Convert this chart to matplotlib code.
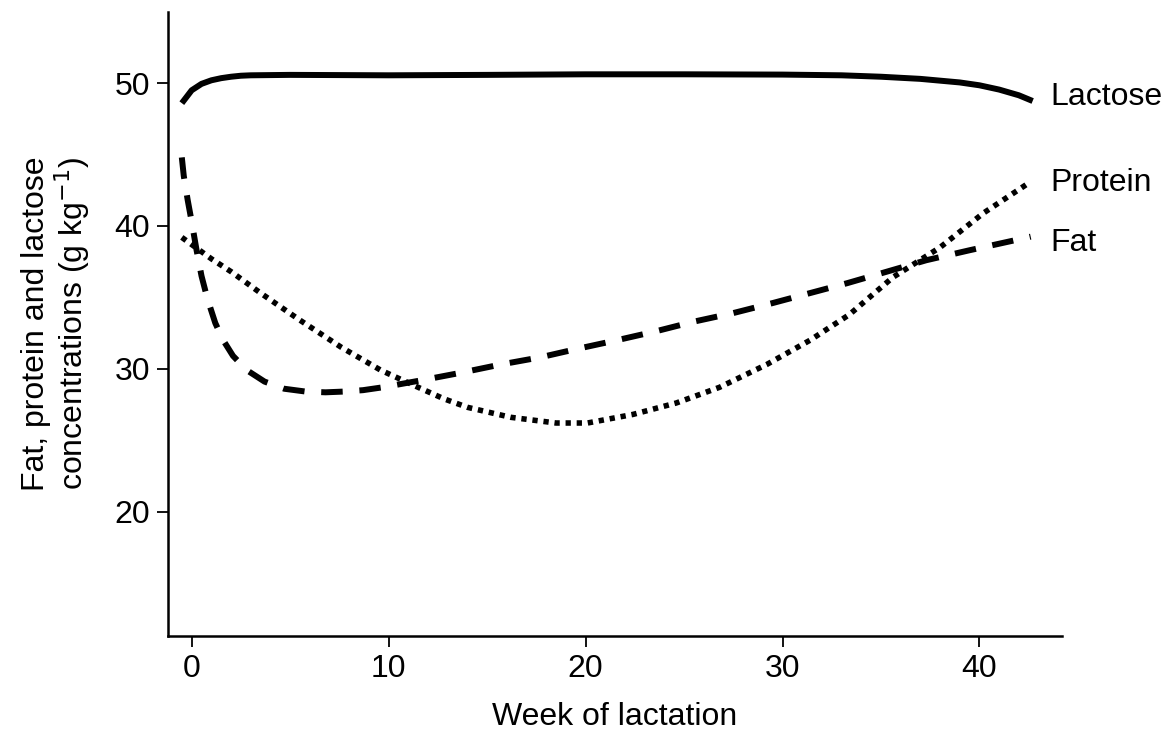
import matplotlib
matplotlib.use("Agg")
import matplotlib.pyplot as plt

# values (week of lactation vs g/kg)
lactose_weeks = [-0.5, 0, 0.5, 1, 1.5, 2, 2.5, 3, 5, 10, 15, 20, 25, 30, 33, 35, 37, 39, 40, 41, 42, 42.7]
lactose = [48.6, 49.5, 49.95, 50.2, 50.35, 50.45, 50.52, 50.55, 50.58, 50.55, 50.58, 50.62, 50.62,
           50.6, 50.55, 50.45, 50.3, 50.05, 49.85, 49.55, 49.15, 48.75]

fat_weeks = [-0.5, -0.4, -0.2, 0, 0.25, 0.5, 0.8, 1.2, 1.6, 2.1, 2.8, 3.7, 4.7, 5.8, 6.8, 7.7, 8.7,
             9.7, 11.7, 13.6, 15.7, 17.7, 19.6, 21.6, 23.5, 25.5, 27.5, 29.5, 31.4, 33.3, 35.3,
             37.3, 39.5, 41.8, 42.6]
fat = [44.8, 43.5, 41.8, 40.3, 38.3, 36.5, 34.9, 33.2, 32.0, 30.9, 29.9, 29.1, 28.6, 28.4, 28.35,
       28.4, 28.5, 28.7, 29.2, 29.7, 30.3, 30.8, 31.4, 32.0, 32.6, 33.3, 33.9, 34.6, 35.3, 36.0,
       36.8, 37.6, 38.3, 39.0, 39.25]

protein_weeks = [-0.5, 0, 1, 2, 3.5, 5.5, 7.6, 9.6, 11.5, 12.8, 14, 16.2, 18.5, 20.1, 22.4, 24.6,
                 26.8, 29.2, 31.4, 33.4, 35.6, 38, 40.2, 42.6]
protein = [39.2, 38.7, 37.7, 36.8, 35.3, 33.4, 31.5, 29.9, 28.7, 27.9, 27.3, 26.6, 26.2, 26.2,
           26.8, 27.6, 28.7, 30.3, 32.0, 33.8, 36.4, 38.5, 40.9, 43.1]

x_ticks = [0, 10, 20, 30, 40]
y_ticks = [20, 30, 40, 50]

plt.rcParams['font.family'] = ['Liberation Sans', 'DejaVu Sans']
fs = 23

fig = plt.figure(figsize=(11.75, 7.35), dpi=100)
ax = fig.add_axes([0.143, 0.135, 0.761, 0.849])

ax.plot(lactose_weeks, lactose, color='black', lw=4.3, solid_capstyle='butt')
ax.plot(fat_weeks, fat, color='black', lw=4.3, linestyle=(0, (3.6, 2.8)), dash_capstyle='butt')
ax.plot(protein_weeks, protein, color='black', lw=4.0, linestyle=(0, (0.95, 1.05)), dash_capstyle='butt')

label_x = 43.6
ax.text(label_x, 49.0, 'Lactose', fontsize=fs, va='center', ha='left', clip_on=False)
ax.text(label_x, 43.0, 'Protein', fontsize=fs, va='center', ha='left', clip_on=False)
ax.text(label_x, 38.8, 'Fat', fontsize=fs, va='center', ha='left', clip_on=False)

ax.set_xlim(-1.2, 44.2)
ax.set_ylim(11.3, 55)
ax.set_xticks(x_ticks)
ax.set_yticks(y_ticks)
ax.tick_params(labelsize=fs, width=1.3, length=8, pad=5, direction='out', color='black')

for side in ['top', 'right']:
    ax.spines[side].set_visible(False)
for side in ['left', 'bottom']:
    ax.spines[side].set_linewidth(1.8)

ax.set_xlabel('Week of lactation', fontsize=fs, labelpad=13)
ax.set_ylabel('Fat, protein and lactose\nconcentrations (g kg$^{-1}$)', fontsize=fs,
              labelpad=16, linespacing=1.05)

fig.savefig('out.png', dpi=100)
